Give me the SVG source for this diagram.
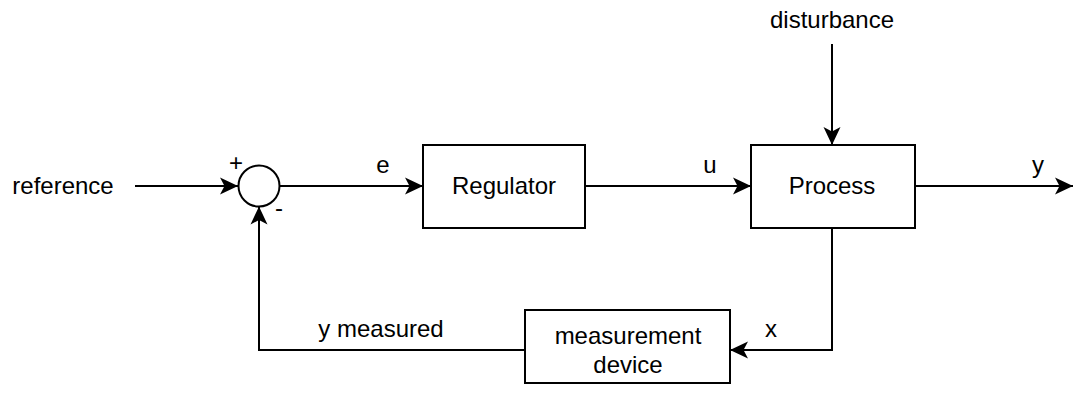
<svg xmlns="http://www.w3.org/2000/svg" width="1074" height="393" viewBox="0 0 1074 393">
  <style>
    .box { fill: #ffffff; stroke: #000000; stroke-width: 2; }
    .wire { fill: none; stroke: #000000; stroke-width: 2; }
    text { font-family: "Liberation Sans", Arial, sans-serif; font-size: 24px; fill: #000000; }
    .c { text-anchor: middle; }
  </style>
  <defs>
    <marker id="arrow" markerUnits="userSpaceOnUse" markerWidth="20" markerHeight="20" viewBox="-19 -10 20 20" refX="0" refY="0" orient="auto" overflow="visible">
      <path d="M0,0 L-18,-8.5 L-13.5,0 L-18,8.5 Z" fill="#000000" stroke="none"/>
    </marker>
  </defs>
  <rect width="1074" height="393" fill="#ffffff"/>

  <g id="connectors">
    <line class="wire" x1="135" y1="186" x2="238" y2="186" marker-end="url(#arrow)"/>
    <line class="wire" x1="279.5" y1="186" x2="423" y2="186" marker-end="url(#arrow)"/>
    <line class="wire" x1="585" y1="186" x2="751" y2="186" marker-end="url(#arrow)"/>
    <line class="wire" x1="915" y1="186" x2="1073" y2="186" marker-end="url(#arrow)"/>
    <line class="wire" x1="832" y1="44" x2="832" y2="145" marker-end="url(#arrow)"/>
    <polyline class="wire" points="832,228 832,350 730,350" marker-end="url(#arrow)"/>
    <polyline class="wire" points="525,350 259,350 259,206.5" marker-end="url(#arrow)"/>
  </g>

  <g id="label-reference"><text class="c" x="63" y="194">reference</text></g>
  <g id="label-disturbance"><text class="c" x="832" y="28">disturbance</text></g>

  <g id="sum">
    <circle class="box" cx="259" cy="186" r="20.5"/>
    <text class="c" x="236" y="171">+</text>
    <text class="c" x="279" y="216">-</text>
  </g>

  <g id="regulator">
    <rect class="box" x="423" y="145" width="162" height="83"/>
    <text class="c" x="504" y="194">Regulator</text>
  </g>

  <g id="process">
    <rect class="box" x="751" y="145" width="164" height="83"/>
    <text class="c" x="832" y="194">Process</text>
  </g>

  <g id="measurement">
    <rect class="box" x="525" y="310" width="205" height="73"/>
    <text class="c" x="628" y="344">measurement</text>
    <text class="c" x="628" y="373">device</text>
  </g>

  <g id="edge-labels">
    <text class="c" x="383" y="173">e</text>
    <text class="c" x="710" y="173">u</text>
    <text class="c" x="1038" y="173">y</text>
    <text class="c" x="381" y="337">y measured</text>
    <text class="c" x="771" y="337">x</text>
  </g>
</svg>
